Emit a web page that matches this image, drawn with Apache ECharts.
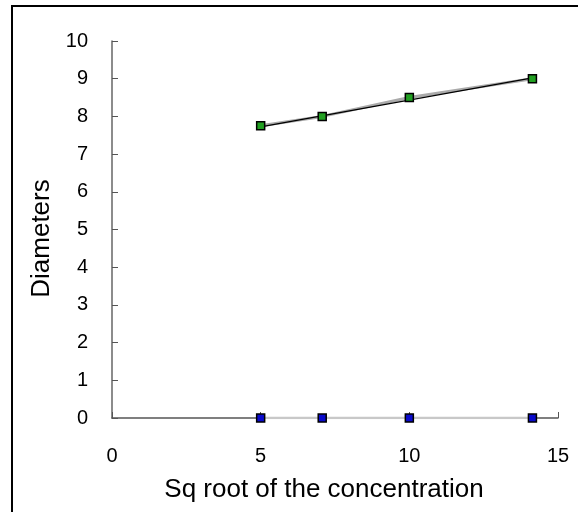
<!DOCTYPE html>
<html>
<head>
<meta charset="utf-8">
<script src="https://cdn.jsdelivr.net/npm/echarts@6/dist/echarts.min.js"></script>
<style>
html,body{margin:0;padding:0;background:#fff;}
#c{width:578px;height:512px;}
</style>
</head>
<body>
<div id="c"></div>
<script>
// Data
const xValues = [5, 7.07, 10, 14.14];
const diameters = [7.75, 8, 8.5, 9];
const baseline = [0, 0, 0, 0];
const trendX = [5, 14.14];
const trendY = [7.72, 9.02];
const xTicks = [0, 5, 10, 15];
const yTicks = [0,1,2,3,4,5,6,7,8,9,10];

const font = 'Liberation Sans, Arial, sans-serif';
const chart = echarts.init(document.getElementById('c'), null, {renderer:'canvas'});
chart.setOption({
  animation: false,
  backgroundColor: '#fff',
  graphic: [{
    type: 'rect', shape: {x: 12, y: 6, width: 700, height: 700},
    style: {fill: 'none', stroke: '#000', lineWidth: 2}, silent: true, z: 100
  }],
  grid: {left: 112, right: 20, top: 41, bottom: 94, containLabel: false},
  xAxis: {
    type: 'value', min: xTicks[0], max: xTicks[xTicks.length-1], interval: 5,
    name: 'Sq root of the concentration', nameLocation: 'middle', nameGap: 59,
    nameTextStyle: {fontFamily: font, fontSize: 26, color: '#000', padding: [0, 22, 0, 0]},
    axisLine: {show: true, onZero: false, lineStyle: {color: '#555', width: 1.5}},
    axisTick: {show: true, inside: true, length: 6, lineStyle: {color: '#555'}},
    axisLabel: {fontFamily: font, fontSize: 20, color: '#000', margin: 28},
    splitLine: {show: false}
  },
  yAxis: {
    type: 'value', min: yTicks[0], max: yTicks[yTicks.length-1], interval: 1,
    name: 'Diameters', nameLocation: 'middle', nameGap: 57,
    nameTextStyle: {fontFamily: font, fontSize: 26, color: '#000', padding: [0, 18, 0, 0]},
    axisLine: {show: true, lineStyle: {color: '#666', width: 1.5}},
    axisTick: {show: true, inside: true, length: 6, lineStyle: {color: '#555'}},
    axisLabel: {fontFamily: font, fontSize: 20, color: '#000', margin: 24},
    splitLine: {show: false}
  },
  series: [
    {
      type: 'line', data: xValues.map((x,i)=>[x, baseline[i]]),
      symbol: 'rect', symbolSize: 8,
      itemStyle: {color: '#0a0acc', borderColor: '#000', borderWidth: 1.5},
      lineStyle: {color: '#c8c8c8', width: 2.5}, z: 3
    },
    {
      type: 'line', data: xValues.map((x,i)=>[x, diameters[i]]),
      symbol: 'none',
      lineStyle: {color: '#aaa', width: 3}, z: 2
    },
    {
      type: 'line', data: trendX.map((x,i)=>[x, trendY[i]]),
      symbol: 'none',
      lineStyle: {color: '#000', width: 1.2}, z: 3
    },
    {
      type: 'line', data: xValues.map((x,i)=>[x, diameters[i]]),
      symbol: 'rect', symbolSize: 8,
      itemStyle: {color: '#22a022', borderColor: '#000', borderWidth: 1.5},
      lineStyle: {width: 0, opacity: 0}, z: 4
    }
  ]
});
</script>
</body>
</html>
